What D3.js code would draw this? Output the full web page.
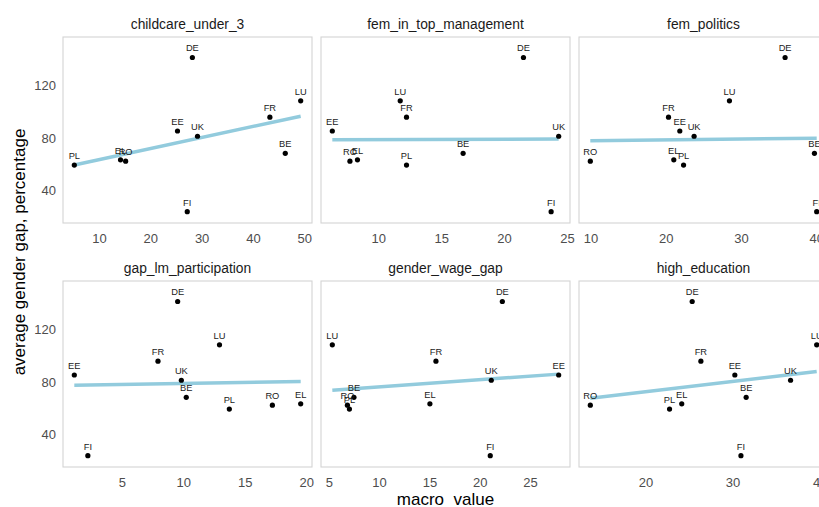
<!DOCTYPE html>
<html>
<head>
<meta charset="utf-8">
<script src="https://cdn.jsdelivr.net/npm/d3@7"></script>
<style>
  html, body { margin: 0; padding: 0; background: #fff; overflow: hidden; }
  svg { display: block; font-family: "Liberation Sans", Arial, sans-serif; }
</style>
</head>
<body>
<div id="chart"></div>
<script>
// countries and the shared y value (average gender gap)
const countries = ["BE", "DE", "EE", "EL", "FI", "FR", "LU", "PL", "RO", "UK"];
const gap = [68.5, 141.5, 85.5, 63.5, 24, 96, 108.5, 59.5, 62.5, 81.5];

// macro indicators, same country order
const panels = ["childcare_under_3", "fem_in_top_management", "fem_politics",
                "gap_lm_participation", "gender_wage_gap", "high_education"];
const childcare_under_3 = [46.2, 28.1, 25.2, 14.1, 27.1, 43.2, 49.2, 5.1, 15.1, 29.1];
const fem_in_top_management = [16.7, 21.5, 6.3, 8.3, 23.7, 12.2, 11.7, 12.2, 7.7, 24.3];
const fem_politics = [39.7, 35.8, 21.8, 21.0, 40.0, 20.3, 28.4, 22.3, 9.9, 23.7];
const gap_lm_participation = [10.2, 9.5, 1.1, 19.5, 2.2, 7.9, 12.9, 13.7, 17.2, 9.8];
const gender_wage_gap = [7.45, 22.2, 27.8, 15.0, 21.0, 15.6, 5.3, 7.0, 6.8, 21.1];
const high_education = [31.5, 25.3, 30.2, 24.1, 30.9, 26.3, 39.6, 22.7, 13.6, 36.6];
const macroValues = [childcare_under_3, fem_in_top_management, fem_politics,
                     gap_lm_participation, gender_wage_gap, high_education];

const yTicks = [40, 80, 120];
const xTicks = [[10, 20, 30, 40, 50], [10, 15, 20, 25], [10, 20, 30, 40],
                [5, 10, 15, 20], [5, 10, 15, 20, 25], [20, 30, 40]];

const width = 819, height = 507;
const colLeft = [63, 321, 579];
const rowTop = [37, 281];
const pw = 249, ph = 186;

const svg = d3.select("#chart").append("svg")
    .attr("width", width)
    .attr("height", height);

const y0 = d3.scaleLinear().domain([15.4, 157.1]).range([ph, 0]);

panels.forEach((name, i) => {
    const col = i % 3, row = Math.floor(i / 3);
    const xs = macroValues[i];
    const data = countries.map((c, j) => ({ c, x: xs[j], y: gap[j] }));

    const ext = d3.extent(xs);
    const pad = (ext[1] - ext[0]) * 0.05;
    const x = d3.scaleLinear().domain([ext[0] - pad, ext[1] + pad]).range([0, pw]);
    const y = y0;

    const g = svg.append("g")
        .attr("transform", `translate(${colLeft[col]},${rowTop[row]})`);

    // panel border
    g.append("rect")
        .attr("width", pw).attr("height", ph)
        .attr("fill", "none")
        .attr("stroke", "#d4d4d4")
        .attr("stroke-width", 1.1);

    // strip title
    g.append("text")
        .attr("x", pw / 2).attr("y", -8)
        .attr("text-anchor", "middle")
        .attr("font-size", 13.8)
        .attr("fill", "#1a1a1a")
        .text(name);

    // x ticks
    g.selectAll(".xt").data(xTicks[i]).enter().append("text")
        .attr("x", d => x(d)).attr("y", ph + 20)
        .attr("text-anchor", "middle")
        .attr("font-size", 13)
        .attr("fill", "#4d4d4d")
        .text(d => d);

    // y ticks on first column only
    if (col === 0) {
        g.selectAll(".yt").data(yTicks).enter().append("text")
            .attr("x", -7).attr("y", d => y(d))
            .attr("dy", "0.35em")
            .attr("text-anchor", "end")
            .attr("font-size", 13)
            .attr("fill", "#4d4d4d")
            .text(d => d);
    }

    // linear fit
    const mx = d3.mean(data, d => d.x), my = d3.mean(data, d => d.y);
    const slope = d3.sum(data, d => (d.x - mx) * (d.y - my)) / d3.sum(data, d => (d.x - mx) ** 2);
    const fit = ext.map(v => ({ x: v, y: my + slope * (v - mx) }));
    g.append("path")
        .datum(fit)
        .attr("d", d3.line().x(d => x(d.x)).y(d => y(d.y)))
        .attr("stroke", "#92cbdd")
        .attr("stroke-width", 3.5)
        .attr("fill", "none");

    // points
    g.selectAll(".pt").data(data).enter().append("circle")
        .attr("cx", d => x(d.x)).attr("cy", d => y(d.y))
        .attr("r", 2.6)
        .attr("fill", "#000");

    // country labels
    g.selectAll(".lb").data(data).enter().append("text")
        .attr("x", d => x(d.x)).attr("y", d => y(d.y) - 6)
        .attr("text-anchor", "middle")
        .attr("font-size", 9.3)
        .attr("fill", "#1a1a1a")
        .text(d => d.c);
});

// axis titles
svg.append("text")
    .attr("transform", `translate(19,${(rowTop[0] + rowTop[1] + ph) / 2}) rotate(-90)`)
    .attr("text-anchor", "middle")
    .attr("dy", "0.35em")
    .attr("font-size", 17)
    .attr("fill", "#000")
    .text("average gender gap, percentage");

svg.append("text")
    .attr("x", (colLeft[0] + colLeft[2] + pw) / 2)
    .attr("y", 505)
    .attr("text-anchor", "middle")
    .attr("font-size", 17)
    .attr("fill", "#000")
    .style("white-space", "pre")
    .text("macro  value");
</script>
</body>
</html>
